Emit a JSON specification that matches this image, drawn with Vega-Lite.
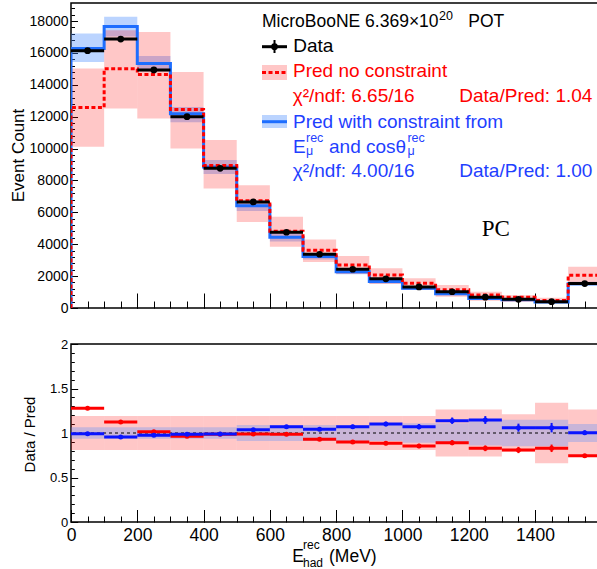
{
  "$schema": "https://vega.github.io/schema/vega-lite/v6.json",
  "autosize": {"type": "none"},
  "padding": {"left": 71, "top": 3, "right": 526, "bottom": 566},
  "background": "white",
  "bounds": "flush",
  "spacing": 36,
  "config": {
    "view": {"stroke": "black", "strokeWidth": 1.5},
    "font": "Liberation Sans",
    "axis": {"labelFont": "Liberation Sans", "titleFont": "Liberation Sans", "labelColor": "black", "titleColor": "black", "tickColor": "black", "tickWidth": 1, "grid": false, "domain": false, "labelFlush": false, "labelOverlap": false, "zindex": 1, "titleFontWeight": "normal"}
  },
  "datasets": {
    "bins": [
      {"lo":0,"hi":100,"mid":50,"data":16140,"derr":127,"nc":12580,"nc_lo":10110,"nc_hi":15020,"wc":16270,"wc_lo":15430,"wc_hi":17210,"rnc":1.278,"rnc_e":0.010,"bnc_lo":0.81,"bnc_hi":1.19,"rwc":0.992,"rwc_e":0.008,"bwc_lo":0.935,"bwc_hi":1.065},
      {"lo":100,"hi":200,"mid":150,"data":16870,"derr":130,"nc":15010,"nc_lo":12510,"nc_hi":17420,"wc":17650,"wc_lo":17030,"wc_hi":18270,"rnc":1.124,"rnc_e":0.009,"bnc_lo":0.81,"bnc_hi":1.19,"rwc":0.956,"rwc_e":0.007,"bwc_lo":0.935,"bwc_hi":1.065},
      {"lo":200,"hi":300,"mid":250,"data":14930,"derr":122,"nc":14650,"nc_lo":11880,"nc_hi":17310,"wc":15330,"wc_lo":14850,"wc_hi":15800,"rnc":1.015,"rnc_e":0.008,"bnc_lo":0.81,"bnc_hi":1.19,"rwc":0.974,"rwc_e":0.008,"bwc_lo":0.935,"bwc_hi":1.065},
      {"lo":300,"hi":400,"mid":350,"data":12000,"derr":110,"nc":12450,"nc_lo":10000,"nc_hi":14800,"wc":12180,"wc_lo":11650,"wc_hi":12600,"rnc":0.963,"rnc_e":0.009,"bnc_lo":0.81,"bnc_hi":1.19,"rwc":0.985,"rwc_e":0.009,"bwc_lo":0.935,"bwc_hi":1.065},
      {"lo":400,"hi":500,"mid":450,"data":8760,"derr":94,"nc":8930,"nc_lo":7500,"nc_hi":10530,"wc":8850,"wc_lo":8410,"wc_hi":9290,"rnc":0.985,"rnc_e":0.011,"bnc_lo":0.81,"bnc_hi":1.19,"rwc":0.99,"rwc_e":0.011,"bwc_lo":0.935,"bwc_hi":1.065},
      {"lo":500,"hi":600,"mid":550,"data":6650,"derr":82,"nc":6720,"nc_lo":5400,"nc_hi":7700,"wc":6410,"wc_lo":6090,"wc_hi":6730,"rnc":0.99,"rnc_e":0.012,"bnc_lo":0.81,"bnc_hi":1.19,"rwc":1.037,"rwc_e":0.013,"bwc_lo":0.91,"bwc_hi":1.09},
      {"lo":600,"hi":700,"mid":650,"data":4750,"derr":69,"nc":4820,"nc_lo":3840,"nc_hi":5720,"wc":4430,"wc_lo":4170,"wc_hi":4700,"rnc":0.985,"rnc_e":0.014,"bnc_lo":0.81,"bnc_hi":1.19,"rwc":1.071,"rwc_e":0.016,"bwc_lo":0.91,"bwc_hi":1.09},
      {"lo":700,"hi":800,"mid":750,"data":3370,"derr":58,"nc":3625,"nc_lo":2880,"nc_hi":4300,"wc":3235,"wc_lo":3040,"wc_hi":3430,"rnc":0.929,"rnc_e":0.016,"bnc_lo":0.81,"bnc_hi":1.19,"rwc":1.041,"rwc_e":0.018,"bwc_lo":0.91,"bwc_hi":1.09},
      {"lo":800,"hi":900,"mid":850,"data":2430,"derr":49,"nc":2700,"nc_lo":2130,"nc_hi":3260,"wc":2266,"wc_lo":2110,"wc_hi":2420,"rnc":0.899,"rnc_e":0.018,"bnc_lo":0.81,"bnc_hi":1.19,"rwc":1.071,"rwc_e":0.022,"bwc_lo":0.91,"bwc_hi":1.09},
      {"lo":900,"hi":1000,"mid":950,"data":1830,"derr":43,"nc":2070,"nc_lo":1500,"nc_hi":2490,"wc":1662,"wc_lo":1540,"wc_hi":1780,"rnc":0.884,"rnc_e":0.021,"bnc_lo":0.81,"bnc_hi":1.19,"rwc":1.101,"rwc_e":0.026,"bwc_lo":0.91,"bwc_hi":1.09},
      {"lo":1000,"hi":1100,"mid":1050,"data":1320,"derr":36,"nc":1546,"nc_lo":1130,"nc_hi":1860,"wc":1232,"wc_lo":1130,"wc_hi":1330,"rnc":0.854,"rnc_e":0.024,"bnc_lo":0.81,"bnc_hi":1.19,"rwc":1.071,"rwc_e":0.03,"bwc_lo":0.89,"bwc_hi":1.11},
      {"lo":1100,"hi":1200,"mid":1150,"data":1020,"derr":32,"nc":1147,"nc_lo":710,"nc_hi":1440,"wc":898,"wc_lo":800,"wc_hi":1000,"rnc":0.891,"rnc_e":0.028,"bnc_lo":0.735,"bnc_hi":1.265,"rwc":1.138,"rwc_e":0.036,"bwc_lo":0.89,"bwc_hi":1.11},
      {"lo":1200,"hi":1300,"mid":1250,"data":680,"derr":26,"nc":821,"nc_lo":460,"nc_hi":1020,"wc":593,"wc_lo":520,"wc_hi":670,"rnc":0.828,"rnc_e":0.032,"bnc_lo":0.735,"bnc_hi":1.265,"rwc":1.146,"rwc_e":0.044,"bwc_lo":0.86,"bwc_hi":1.14},
      {"lo":1300,"hi":1400,"mid":1350,"data":546,"derr":23,"nc":675,"nc_lo":380,"nc_hi":800,"wc":515,"wc_lo":450,"wc_hi":580,"rnc":0.809,"rnc_e":0.035,"bnc_lo":0.79,"bnc_hi":1.21,"rwc":1.06,"rwc_e":0.045,"bwc_lo":0.85,"bwc_hi":1.15},
      {"lo":1400,"hi":1500,"mid":1450,"data":395,"derr":20,"nc":477,"nc_lo":315,"nc_hi":640,"wc":373,"wc_lo":320,"wc_hi":430,"rnc":0.828,"rnc_e":0.042,"bnc_lo":0.66,"bnc_hi":1.34,"rwc":1.06,"rwc_e":0.053,"bwc_lo":0.85,"bwc_hi":1.15},
      {"lo":1500,"hi":1600,"mid":1550,"data":1530,"derr":39,"nc":2060,"nc_lo":1520,"nc_hi":2590,"wc":1524,"wc_lo":1400,"wc_hi":1650,"rnc":0.745,"rnc_e":0.019,"bnc_lo":0.735,"bnc_hi":1.265,"rwc":1.004,"rwc_e":0.026,"bwc_lo":0.9,"bwc_hi":1.1}
    ],
    "steps": [
      {"i":0,"x":0,"nc":0,"wc":0},
      {"i":1,"x":0,"nc":12580,"wc":16270},
      {"i":2,"x":100,"nc":15010,"wc":17650},
      {"i":3,"x":200,"nc":14650,"wc":15330},
      {"i":4,"x":300,"nc":12450,"wc":12180},
      {"i":5,"x":400,"nc":8930,"wc":8850},
      {"i":6,"x":500,"nc":6720,"wc":6410},
      {"i":7,"x":600,"nc":4820,"wc":4430},
      {"i":8,"x":700,"nc":3625,"wc":3235},
      {"i":9,"x":800,"nc":2700,"wc":2266},
      {"i":10,"x":900,"nc":2070,"wc":1662},
      {"i":11,"x":1000,"nc":1546,"wc":1232},
      {"i":12,"x":1100,"nc":1147,"wc":898},
      {"i":13,"x":1200,"nc":821,"wc":593},
      {"i":14,"x":1300,"nc":675,"wc":515},
      {"i":15,"x":1400,"nc":477,"wc":373},
      {"i":16,"x":1500,"nc":2060,"wc":1524},
      {"i":17,"x":1600,"nc":2060,"wc":1524}
    ],
    "leg_rbox": [{"x1":576.3,"x2":651.7,"y1":14300,"y2":15241,"y":14770}],
    "leg_bbox": [{"x1":576.3,"x2":651.7,"y1":11290,"y2":12105,"y":11685}],
    "leg_data": [{"x1":576.3,"x2":651.7,"xm":614,"y":16389,"ylo":15994,"yhi":16810}],
    "title_text": [
      {"g":"k","t":"MicroBooNE 6.369×10","x":576.3,"y":17606},
      {"g":"k","t":"POT","x":1198.7,"y":17606}
    ],
    "top_text": [
      {"g":"k","t":"Data","x":670.7,"y":16037},
      {"g":"r","t":"Pred no constraint","x":669.8,"y":14470},
      {"g":"r","t":"χ²/ndf: 6.65/16","x":668.9,"y":12939},
      {"g":"r","t":"Data/Pred: 1.04","x":1171.5,"y":12939},
      {"g":"b","t":"Pred with constraint from","x":669.8,"y":11271},
      {"g":"b","t":"E","x":669.8,"y":9740},
      {"g":"b","t":"and cosθ","x":778.4,"y":9740},
      {"g":"b","t":"χ²/ndf: 4.00/16","x":668.9,"y":8235},
      {"g":"b","t":"Data/Pred: 1.00","x":1171.5,"y":8235}
    ],
    "top_small": [
      {"g":"k","t":"20","x":1110.3,"y":18045},
      {"g":"b","t":"rec","x":709,"y":10412},
      {"g":"b","t":"μ","x":709,"y":9596},
      {"g":"b","t":"rec","x":1015,"y":10412},
      {"g":"b","t":"μ","x":1015,"y":9596}
    ],
    "pc": [{"t":"PC","x":1239.1,"y":4516}],
    "bot_text": [
      {"t":"E","x":667.7,"y":-0.449},
      {"t":"(MeV)","x":778.4,"y":-0.449}
    ],
    "bot_small": [
      {"t":"rec","x":700,"y":-0.303},
      {"t":"had","x":700,"y":-0.506}
    ],
    "one": [{"v":1}]
  },
  "vconcat": [
    {
      "width": 527,
      "height": 305,
      "resolve": {"axis": {"x": "independent", "y": "independent"}},
      "layer": [
        {
          "data": {"name": "bins"},
          "mark": {"type": "rect", "fill": "#3d85ff", "opacity": 0.35, "clip": true},
          "encoding": {
            "x": {"field": "lo", "type": "quantitative", "scale": {"domain": [0, 1590], "nice": false, "zero": false},
                  "axis": {"orient": "bottom", "values": [0,200,400,600,800,1000,1200,1400], "labels": false, "tickSize": -15, "title": null}},
            "x2": {"field": "hi"},
            "y": {"field": "wc_lo", "type": "quantitative", "scale": {"domain": [0, 19130], "nice": false, "zero": false},
                  "axis": {"orient": "left", "values": [0,2000,4000,6000,8000,10000,12000,14000,16000,18000], "format": "d", "tickSize": -6.5, "labelPadding": 9.5, "labelFontSize": 14, "title": "Event Count", "titleFontSize": 17, "titleX": -48, "titleY": 152, "titleAngle": -90, "titleAlign": "center", "titleBaseline": "alphabetic"}},
            "y2": {"field": "wc_hi"}
          }
        },
        {
          "data": {"name": "bins"},
          "mark": {"type": "rect", "fill": "#ff0000", "opacity": 0.22, "clip": true},
          "encoding": {
            "x": {"field": "lo", "type": "quantitative",
                  "axis": {"orient": "bottom", "values": [0,50,100,150,200,250,300,350,400,450,500,550,600,650,700,750,800,850,900,950,1000,1050,1100,1150,1200,1250,1300,1350,1400,1450,1500,1550], "labels": false, "tickSize": -7, "title": null}},
            "x2": {"field": "hi"},
            "y": {"field": "nc_lo", "type": "quantitative",
                  "axis": {"orient": "left", "values": [0,400,800,1200,1600,2000,2400,2800,3200,3600,4000,4400,4800,5200,5600,6000,6400,6800,7200,7600,8000,8400,8800,9200,9600,10000,10400,10800,11200,11600,12000,12400,12800,13200,13600,14000,14400,14800,15200,15600,16000,16400,16800,17200,17600,18000,18400,18800], "labels": false, "tickSize": -3.5, "title": null}},
            "y2": {"field": "nc_hi"}
          }
        },
        {
          "data": {"name": "steps"},
          "mark": {"type": "line", "interpolate": "step-after", "stroke": "#1e6eff", "strokeWidth": 3, "clip": true},
          "encoding": {
            "x": {"field": "x", "type": "quantitative", "axis": null},
            "y": {"field": "wc", "type": "quantitative", "axis": null},
            "order": {"field": "i"}
          }
        },
        {
          "data": {"name": "steps"},
          "mark": {"type": "line", "interpolate": "step-after", "stroke": "#ff0000", "strokeWidth": 3, "strokeDash": [4, 2.5], "clip": true},
          "encoding": {
            "x": {"field": "x", "type": "quantitative", "axis": null},
            "y": {"field": "nc", "type": "quantitative", "axis": null},
            "order": {"field": "i"}
          }
        },
        {
          "data": {"name": "bins"},
          "mark": {"type": "rule", "stroke": "black", "strokeWidth": 3, "clip": true},
          "encoding": {
            "x": {"field": "lo", "type": "quantitative", "axis": null},
            "x2": {"field": "hi"},
            "y": {"field": "data", "type": "quantitative", "axis": null}
          }
        },
        {
          "data": {"name": "bins"},
          "mark": {"type": "errorbar", "color": "black", "thickness": 2},
          "encoding": {
            "x": {"field": "mid", "type": "quantitative", "axis": null},
            "y": {"field": "data", "type": "quantitative", "axis": null},
            "yError": {"field": "derr"}
          }
        },
        {
          "data": {"name": "bins"},
          "mark": {"type": "circle", "color": "black", "opacity": 1, "size": 45},
          "encoding": {
            "x": {"field": "mid", "type": "quantitative", "axis": null},
            "y": {"field": "data", "type": "quantitative", "axis": null}
          }
        },
        {
          "data": {"name": "leg_rbox"},
          "mark": {"type": "rect", "fill": "#ff0000", "opacity": 0.22},
          "encoding": {
            "x": {"field": "x1", "type": "quantitative", "axis": null},
            "x2": {"field": "x2"},
            "y": {"field": "y1", "type": "quantitative", "axis": null},
            "y2": {"field": "y2"}
          }
        },
        {
          "data": {"name": "leg_rbox"},
          "mark": {"type": "rule", "stroke": "#ff0000", "strokeWidth": 3, "strokeDash": [4, 2.5]},
          "encoding": {
            "x": {"field": "x1", "type": "quantitative", "axis": null},
            "x2": {"field": "x2"},
            "y": {"field": "y", "type": "quantitative", "axis": null}
          }
        },
        {
          "data": {"name": "leg_bbox"},
          "mark": {"type": "rect", "fill": "#3d85ff", "opacity": 0.35},
          "encoding": {
            "x": {"field": "x1", "type": "quantitative", "axis": null},
            "x2": {"field": "x2"},
            "y": {"field": "y1", "type": "quantitative", "axis": null},
            "y2": {"field": "y2"}
          }
        },
        {
          "data": {"name": "leg_bbox"},
          "mark": {"type": "rule", "stroke": "#1e6eff", "strokeWidth": 3},
          "encoding": {
            "x": {"field": "x1", "type": "quantitative", "axis": null},
            "x2": {"field": "x2"},
            "y": {"field": "y", "type": "quantitative", "axis": null}
          }
        },
        {
          "data": {"name": "leg_data"},
          "mark": {"type": "rule", "stroke": "black", "strokeWidth": 3},
          "encoding": {
            "x": {"field": "x1", "type": "quantitative", "axis": null},
            "x2": {"field": "x2"},
            "y": {"field": "y", "type": "quantitative", "axis": null}
          }
        },
        {
          "data": {"name": "leg_data"},
          "mark": {"type": "rule", "stroke": "black", "strokeWidth": 2},
          "encoding": {
            "x": {"field": "xm", "type": "quantitative", "axis": null},
            "y": {"field": "ylo", "type": "quantitative", "axis": null},
            "y2": {"field": "yhi"}
          }
        },
        {
          "data": {"name": "leg_data"},
          "mark": {"type": "circle", "color": "black", "opacity": 1, "size": 45},
          "encoding": {
            "x": {"field": "xm", "type": "quantitative", "axis": null},
            "y": {"field": "y", "type": "quantitative", "axis": null}
          }
        },
        {
          "data": {"name": "title_text"},
          "mark": {"type": "text", "align": "left", "baseline": "alphabetic", "fontSize": 17.5, "font": "Liberation Sans", "color": "black"},
          "encoding": {
            "x": {"field": "x", "type": "quantitative", "axis": null},
            "y": {"field": "y", "type": "quantitative", "axis": null},
            "text": {"field": "t"}
          }
        },
        {
          "data": {"name": "top_text"},
          "mark": {"type": "text", "align": "left", "baseline": "alphabetic", "fontSize": 19, "font": "Liberation Sans"},
          "encoding": {
            "x": {"field": "x", "type": "quantitative", "axis": null},
            "y": {"field": "y", "type": "quantitative", "axis": null},
            "text": {"field": "t"},
            "color": {"field": "g", "type": "nominal", "scale": {"domain": ["k", "r", "b"], "range": ["black", "#ff0000", "#1f3fff"]}, "legend": null}
          }
        },
        {
          "data": {"name": "top_small"},
          "mark": {"type": "text", "align": "left", "baseline": "alphabetic", "fontSize": 12.5, "font": "Liberation Sans"},
          "encoding": {
            "x": {"field": "x", "type": "quantitative", "axis": null},
            "y": {"field": "y", "type": "quantitative", "axis": null},
            "text": {"field": "t"},
            "color": {"field": "g", "type": "nominal", "legend": null}
          }
        },
        {
          "data": {"name": "pc"},
          "mark": {"type": "text", "align": "left", "baseline": "alphabetic", "fontSize": 23, "font": "Liberation Serif", "color": "black"},
          "encoding": {
            "x": {"field": "x", "type": "quantitative", "axis": null},
            "y": {"field": "y", "type": "quantitative", "axis": null},
            "text": {"field": "t"}
          }
        }
      ]
    },
    {
      "width": 527,
      "height": 178,
      "resolve": {"axis": {"x": "independent", "y": "independent"}},
      "layer": [
        {
          "data": {"name": "bins"},
          "mark": {"type": "rect", "fill": "#ff0000", "opacity": 0.22, "clip": true},
          "encoding": {
            "x": {"field": "lo", "type": "quantitative", "scale": {"domain": [0, 1590], "nice": false, "zero": false},
                  "axis": {"orient": "bottom", "values": [0,200,400,600,800,1000,1200,1400], "format": "d", "tickSize": -12.5, "labelPadding": 16.5, "labelFontSize": 17.5, "title": null}},
            "x2": {"field": "hi"},
            "y": {"field": "bnc_lo", "type": "quantitative", "scale": {"domain": [0, 2], "nice": false, "zero": false},
                  "axis": {"orient": "left", "values": [0,0.5,1,1.5,2], "format": "~g", "tickSize": -6.7, "labelPadding": 10, "labelFontSize": 13, "title": "Data / Pred", "titleFontSize": 15, "titleX": -36.5, "titleY": 90, "titleAngle": -90, "titleAlign": "center", "titleBaseline": "alphabetic"}},
            "y2": {"field": "bnc_hi"}
          }
        },
        {
          "data": {"name": "bins"},
          "mark": {"type": "rect", "fill": "#4d8cff", "opacity": 0.3, "clip": true},
          "encoding": {
            "x": {"field": "lo", "type": "quantitative",
                  "axis": {"orient": "bottom", "values": [0,50,100,150,200,250,300,350,400,450,500,550,600,650,700,750,800,850,900,950,1000,1050,1100,1150,1200,1250,1300,1350,1400,1450,1500,1550], "labels": false, "tickSize": -6, "title": null}},
            "x2": {"field": "hi"},
            "y": {"field": "bwc_lo", "type": "quantitative",
                  "axis": {"orient": "left", "values": [0,0.1,0.2,0.3,0.4,0.5,0.6,0.7,0.8,0.9,1,1.1,1.2,1.3,1.4,1.5,1.6,1.7,1.8,1.9,2], "labels": false, "tickSize": -3.3, "title": null}},
            "y2": {"field": "bwc_hi"}
          }
        },
        {
          "data": {"name": "one"},
          "mark": {"type": "rule", "stroke": "black", "strokeWidth": 1.2, "strokeDash": [3, 3]},
          "encoding": {
            "y": {"field": "v", "type": "quantitative", "axis": null}
          }
        },
        {
          "data": {"name": "bins"},
          "mark": {"type": "rule", "stroke": "#ff0000", "strokeWidth": 3, "clip": true},
          "encoding": {
            "x": {"field": "lo", "type": "quantitative", "axis": null},
            "x2": {"field": "hi"},
            "y": {"field": "rnc", "type": "quantitative", "axis": null}
          }
        },
        {
          "data": {"name": "bins"},
          "mark": {"type": "errorbar", "color": "#ff0000", "thickness": 2},
          "encoding": {
            "x": {"field": "mid", "type": "quantitative", "axis": null},
            "y": {"field": "rnc", "type": "quantitative", "axis": null},
            "yError": {"field": "rnc_e"}
          }
        },
        {
          "data": {"name": "bins"},
          "mark": {"type": "circle", "color": "#ff0000", "opacity": 1, "size": 25},
          "encoding": {
            "x": {"field": "mid", "type": "quantitative", "axis": null},
            "y": {"field": "rnc", "type": "quantitative", "axis": null}
          }
        },
        {
          "data": {"name": "bins"},
          "mark": {"type": "rule", "stroke": "#0a14ff", "strokeWidth": 3, "clip": true},
          "encoding": {
            "x": {"field": "lo", "type": "quantitative", "axis": null},
            "x2": {"field": "hi"},
            "y": {"field": "rwc", "type": "quantitative", "axis": null}
          }
        },
        {
          "data": {"name": "bins"},
          "mark": {"type": "errorbar", "color": "#0a14ff", "thickness": 2},
          "encoding": {
            "x": {"field": "mid", "type": "quantitative", "axis": null},
            "y": {"field": "rwc", "type": "quantitative", "axis": null},
            "yError": {"field": "rwc_e"}
          }
        },
        {
          "data": {"name": "bins"},
          "mark": {"type": "circle", "color": "#0a14ff", "opacity": 1, "size": 25},
          "encoding": {
            "x": {"field": "mid", "type": "quantitative", "axis": null},
            "y": {"field": "rwc", "type": "quantitative", "axis": null}
          }
        },
        {
          "data": {"name": "bot_text"},
          "mark": {"type": "text", "align": "left", "baseline": "alphabetic", "fontSize": 17.5, "font": "Liberation Sans", "color": "black"},
          "encoding": {
            "x": {"field": "x", "type": "quantitative", "axis": null},
            "y": {"field": "y", "type": "quantitative", "axis": null},
            "text": {"field": "t"}
          }
        },
        {
          "data": {"name": "bot_small"},
          "mark": {"type": "text", "align": "left", "baseline": "alphabetic", "fontSize": 12, "font": "Liberation Sans", "color": "black"},
          "encoding": {
            "x": {"field": "x", "type": "quantitative", "axis": null},
            "y": {"field": "y", "type": "quantitative", "axis": null},
            "text": {"field": "t"}
          }
        }
      ]
    }
  ]
}
